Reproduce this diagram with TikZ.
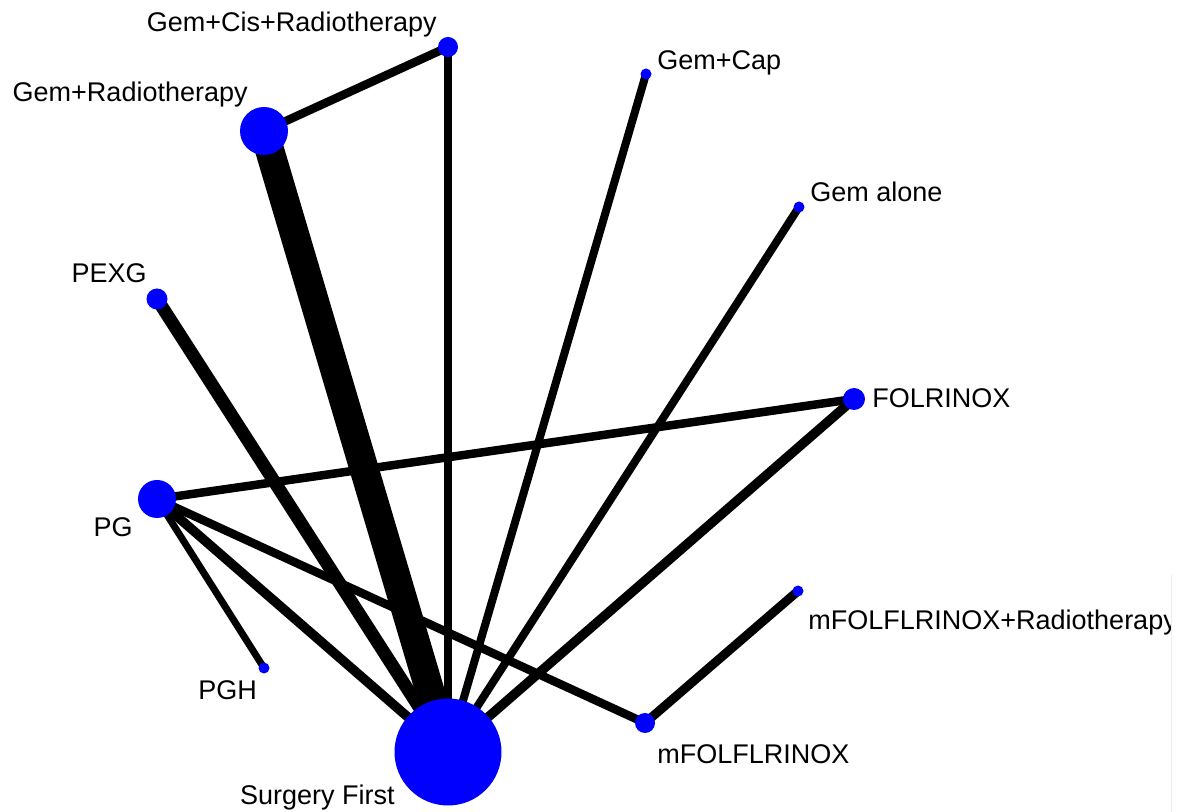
\documentclass[tikz,border=0pt]{standalone}
\usepackage{fontspec}
\setmainfont{Liberation Sans}
\usetikzlibrary{backgrounds}

\begin{document}
\begin{tikzpicture}[x=0.5pt, y=-0.5pt,
  every node/.style={font=\fontsize{13.5}{16}\selectfont, inner sep=0pt},
  arm/.style={circle, fill=blue, minimum size=#1*0.5pt},
  link/.style={line width=#1*0.5pt}]
\useasboundingbox (0,0) rectangle (1190,812);

% Treatments (name/x/y/diameter)
\foreach \n/\x/\y/\d in {
  sf/448/752/107,
  gr/264/131/48,
  gcr/448/47/20,
  gcap/646/74/11,
  galone/799/207/11,
  pexg/157/299/21,
  folr/854/399/22,
  pg/157/499/38,
  mfr/798/591/11,
  pgh/264/668/11,
  mfol/645/723/20
} {
  \node[arm=\d] (\n) at (\x,\y) {};
}

% Comparisons (line width = number of trials)
\begin{scope}[on background layer]
\foreach \a/\b/\w in {
  gr/sf/29,
  gcr/gr/8.5,
  gcr/sf/7.5,
  gcap/sf/8,
  galone/sf/8,
  pexg/sf/13,
  folr/pg/8.5,
  folr/sf/9.5,
  pg/sf/9.5,
  pg/mfol/8.5,
  pg/pgh/7,
  mfol/mfr/9
} {
  \draw[link=\w] (\a.center) -- (\b.center);
}
\end{scope}

% Labels
\foreach \n/\x/\y/\p/\t in {
  gcr/437/32/base east/Gem+Cis+Radiotherapy,
  gr/248/102/base east/Gem+Radiotherapy,
  gcap/657/70/base west/Gem+Cap,
  galone/810/202/base west/Gem alone,
  pexg/147/283/base east/PEXG,
  folr/872/408/base west/FOLRINOX,
  pg/133/537/base east/PG,
  mfr/808/630/base west/mFOLFLRINOX+Radiotherapy,
  pgh/198/700/base west/PGH,
  mfol/657/763/base west/mFOLFLRINOX,
  sf/395/805/base east/Surgery First
} {
  \node[anchor=\p] (\n-lbl) at (\x,\y) {\t};
}

% cut edge of the scan
\fill[white] (1171,575) rectangle (1190,812);
\draw[gray!15, line width=0.5pt] (1171,575) -- (1171,812);
\end{tikzpicture}
\end{document}
